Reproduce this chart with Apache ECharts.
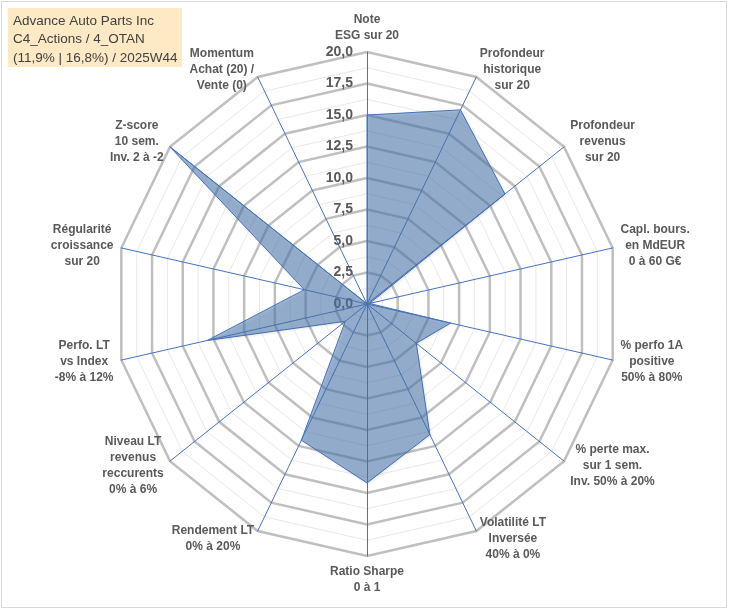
<!DOCTYPE html>
<html>
<head>
<meta charset="utf-8">
<script src="https://cdn.jsdelivr.net/npm/echarts@6/dist/echarts.min.js"></script>
<style>
html,body{margin:0;padding:0;background:#fff;}
#chart{width:729px;height:610px;}
</style>
</head>
<body>
<div id="chart"></div>
<script>
// Indicators listed clockwise starting from the top
const indicatorNames = [
  "Note\nESG sur 20",
  "Profondeur\nhistorique\nsur 20",
  "Profondeur\nrevenus\nsur 20",
  "Capl. bours.\nen MdEUR\n0 à 60 G€",
  "% perfo 1A\npositive\n50% à 80%",
  "% perte max.\nsur 1 sem.\nInv. 50% à 20%",
  "Volatilité LT\nInversée\n40% à 0%",
  "Ratio Sharpe\n0 à 1",
  "Rendement LT\n0% à 20%",
  "Niveau LT\nrevenus\nreccurents\n0% à 6%",
  "Perfo. LT\nvs Index\n-8% à 12%",
  "Régularité\ncroissance\nsur 20",
  "Z-score\n10 sem.\nInv. 2 à -2",
  "Momentum\nAchat (20) /\nVente (0)"
];
const scoreValues = [15.0, 17.1, 14.0, 0.2, 6.8, 5.0, 11.5, 14.2, 12.0, 2.2, 13.0, 5.1, 20.0, 0.0];
const axisMax = 20;
const majorSplits = 8;   // ticks every 2,5
const minorSplits = 16;  // light rings every 1,25
const titleLines = ["Advance Auto Parts Inc", "C4_Actions / 4_OTAN", "(11,9% | 16,8%) / 2025W44"];

// ECharts places radar indicators counter-clockwise: reorder to get clockwise layout
const order = [0].concat(indicatorNames.map((_, i) => i).slice(1).reverse());
const indicatorsMajor = order.map((i, k) => {
  const o = { name: indicatorNames[i], max: axisMax, min: 0 };
  if (k === 0) o.axisLabel = { show: true };
  return o;
});
const indicatorsMinor = order.map(i => ({ name: indicatorNames[i], max: axisMax, min: 0 }));
const orderedValues = order.map(i => scoreValues[i]);

const center = [367, 304];
const radius = 252;
const labelColor = '#595959';

const chart = echarts.init(document.getElementById('chart'), null, { renderer: 'canvas' });
chart.setOption({
  animation: false,
  backgroundColor: '#ffffff',
  graphic: [
    { type: 'rect', shape: { x: 1.5, y: 1.5, width: 725, height: 606 }, style: { fill: 'none', stroke: '#d9d9d9', lineWidth: 1 }, z: -10 },
    { type: 'rect', shape: { x: 8, y: 8, width: 174, height: 59 }, style: { fill: '#fde9c4' }, z: 10 },
    { type: 'text', left: 13, top: 12, z: 11,
      style: { text: titleLines.join('\n'), fill: '#404040', font: '13.5px "Liberation Sans", Arial, sans-serif', lineHeight: 18.5 } }
  ],
  radar: [
    {
      center: center, radius: radius, shape: 'polygon', startAngle: 90,
      splitNumber: minorSplits,
      indicator: indicatorsMinor,
      axisName: { show: false },
      axisLine: { show: false },
      axisTick: { show: false },
      axisLabel: { show: false },
      splitArea: { show: false },
      splitLine: { lineStyle: { color: '#e8e8e8', width: 1 } }
    },
    {
      center: center, radius: radius, shape: 'polygon', startAngle: 90,
      splitNumber: majorSplits,
      indicator: indicatorsMajor,
      nameGap: 8,
      axisName: {
        formatter: (name) => name.split('\n').map(l => '{n|' + l + '}').join('\n'),
        rich: { n: { align: 'center', fontSize: 12, fontWeight: 'bold', color: labelColor, lineHeight: 16, fontFamily: 'Liberation Sans, Arial, sans-serif' } }
      },
      axisLine: { show: true, lineStyle: { color: '#4472c4', width: 1 } },
      axisTick: { show: false },
      axisLabel: {
        show: false, margin: 14, color: labelColor, fontSize: 14, fontWeight: 'bold',
        fontFamily: 'Liberation Sans, Arial, sans-serif',
        formatter: (v) => Number(v).toFixed(1).replace('.', ',')
      },
      splitArea: { show: false },
      splitLine: { lineStyle: { color: '#bfbfbf', width: 2.5 } }
    }
  ],
  series: [{
    type: 'radar',
    radarIndex: 1,
    symbol: 'none',
    data: [{ value: orderedValues, name: 'Score' }],
    lineStyle: { color: '#4472c4', width: 1 },
    areaStyle: { color: 'rgba(78,126,184,0.75)', shadowColor: 'rgba(0,0,0,0.25)', shadowBlur: 3, shadowOffsetX: 1, shadowOffsetY: 1 },
    z: 3
  }]
});
</script>
</body>
</html>
